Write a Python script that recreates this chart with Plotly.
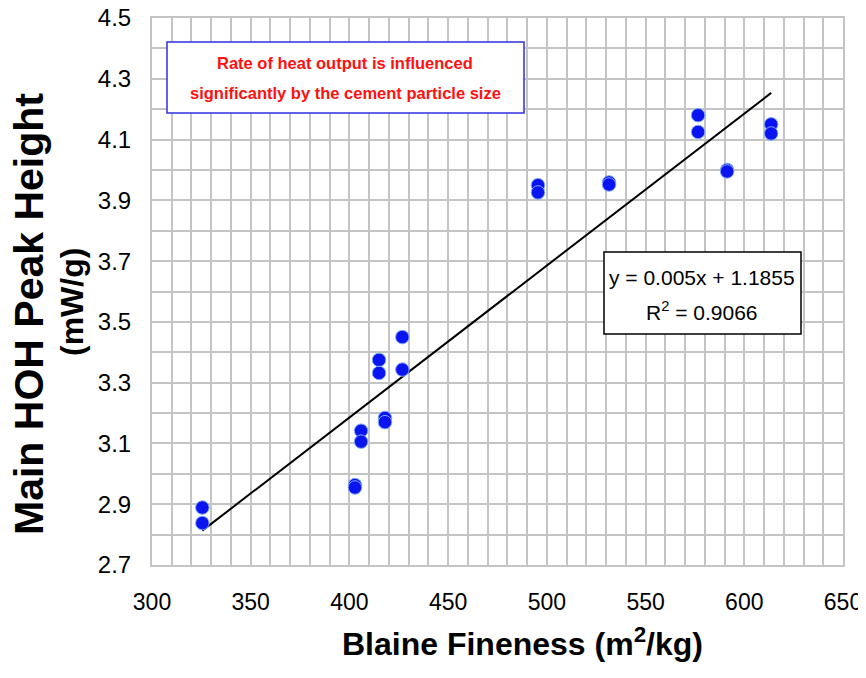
import plotly.graph_objects as go

# Data
blaine = [325.5, 325.5, 402.8, 402.8, 405.9, 405.9, 415, 415, 418, 418, 426.8, 426.8,
          495.5, 495.5, 531.5, 531.5, 576.6, 576.6, 591.3, 591.3, 613.6, 613.6]
peak = [2.889, 2.838, 2.963, 2.955, 3.142, 3.106, 3.375, 3.332, 3.184, 3.17, 3.45, 3.343,
        3.95, 3.926, 3.959, 3.952, 4.18, 4.125, 4.0, 3.995, 4.15, 4.12]
slope = 0.005
intercept = 1.1855
r2 = 0.9066

x_ticks = [300, 350, 400, 450, 500, 550, 600, 650]
y_ticks = [2.7, 2.9, 3.1, 3.3, 3.5, 3.7, 3.9, 4.1, 4.3, 4.5]

fit_x = [min(blaine), max(blaine)]
fit_y = [slope * v + intercept for v in fit_x]

font = "Liberation Sans, Arial"
OFF = 8  # page body margin offset
W, H = 866 - OFF, 678 - OFF
L, R, T, B = 152 - OFF, 23, 18 - OFF, 113
pw, ph = W - L - R, H - T - B


def px(x):  # screen pixel -> paper
    return (x - OFF - L) / pw


def py(y):
    return (H - B - (y - OFF)) / ph


fig = go.Figure()
fig.add_trace(go.Scatter(x=fit_x, y=fit_y, mode="lines",
                         line=dict(color="black", width=2), showlegend=False))
fig.add_trace(go.Scatter(x=blaine, y=peak, mode="markers",
                         marker=dict(color="#0a14f0", size=13.5,
                                     line=dict(color="#7fa8f5", width=1)),
                         showlegend=False))

grid = "#c4c4c4"
fig.update_xaxes(range=[300, 650], tickvals=x_ticks, showgrid=True, gridcolor=grid,
                 gridwidth=2, minor=dict(dtick=10, showgrid=True, gridcolor=grid, gridwidth=2),
                 zeroline=False, showline=True, linecolor=grid, linewidth=2, mirror=True,
                 ticks="", tickfont=dict(family=font, size=23, color="black"),
                 ticklabelstandoff=15, ticklabeloverflow="allow", automargin=False)
fig.update_yaxes(range=[2.7, 4.5], tickvals=y_ticks, ticktext=[f"{v:.1f}" for v in y_ticks],
                 showgrid=True, gridcolor=grid, gridwidth=2,
                 minor=dict(dtick=0.1, tick0=2.7, showgrid=True, gridcolor=grid, gridwidth=2),
                 zeroline=False, showline=True, linecolor=grid, linewidth=2, mirror=True,
                 ticks="", tickfont=dict(family=font, size=24, color="black"),
                 ticklabelstandoff=14, ticklabeloverflow="allow", automargin=False)

# axis titles
fig.add_annotation(xref="paper", yref="paper", x=px(29), y=py(314), xanchor="center",
                   yanchor="middle", textangle=-90, showarrow=False,
                   text="<b>Main HOH Peak Height</b>",
                   font=dict(family=font, size=41, color="black"))
fig.add_annotation(xref="paper", yref="paper", x=px(72), y=py(302), xanchor="center",
                   yanchor="middle", textangle=-90, showarrow=False,
                   text="<b>(mW/g)</b>",
                   font=dict(family=font, size=32, color="black"))
fig.add_annotation(xref="paper", yref="paper", x=px(522), y=py(642), xanchor="center",
                   yanchor="middle", showarrow=False,
                   text="<b>Blaine Fineness (m<sup>2</sup>/kg)</b>",
                   font=dict(family=font, size=32, color="black"))

# red note box
fig.add_shape(type="rect", xref="paper", yref="paper", x0=px(167), x1=px(524),
              y0=py(113), y1=py(42), line=dict(color="#3030e0", width=1.5),
              fillcolor="white", layer="above")
for txt, yc in [("Rate of heat output is influenced", 63),
                ("significantly by the cement particle size", 93)]:
    fig.add_annotation(xref="paper", yref="paper", x=px(345), y=py(yc), xanchor="center",
                       yanchor="middle", showarrow=False, text=f"<b>{txt}</b>",
                       font=dict(family=font, size=16.5, color="#ff1010"))

# equation box
fig.add_shape(type="rect", xref="paper", yref="paper", x0=px(604), x1=px(801),
              y0=py(334), y1=py(252), line=dict(color="black", width=1.5),
              fillcolor="white", layer="above")
fig.add_annotation(xref="paper", yref="paper", x=px(702), y=py(277), xanchor="center",
                   yanchor="middle", showarrow=False,
                   text=f"y = {slope}x + {intercept}",
                   font=dict(family=font, size=21, color="black"))
fig.add_annotation(xref="paper", yref="paper", x=px(702), y=py(311), xanchor="center",
                   yanchor="middle", showarrow=False,
                   text=f"R<sup>2</sup> = {r2}",
                   font=dict(family=font, size=21, color="black"))

fig.update_layout(width=W, height=H, plot_bgcolor="white", paper_bgcolor="white",
                  margin=dict(l=L, r=R, t=T, b=B))
fig.write_html("out.html")
